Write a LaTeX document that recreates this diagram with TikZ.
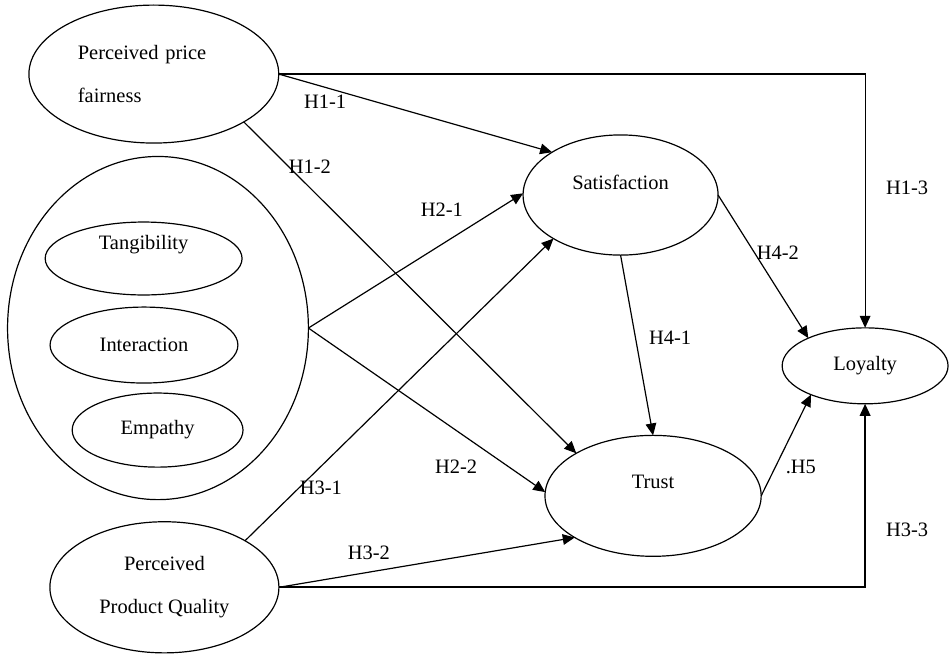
\documentclass[tikz,border=0pt]{standalone}
\usepackage{fontspec}
\setmainfont{Liberation Serif}
\usetikzlibrary{shapes.geometric,arrows.meta,positioning,calc}

\begin{document}
\begin{tikzpicture}[
  construct/.style={
    ellipse, draw=black, line width=0.9pt,
    inner sep=0pt, outer sep=0pt, align=center
  },
  hypo/.style={
    -{Triangle[length=9pt,width=8pt]},
    line width=0.9pt, black
  },
  hyplabel/.style={
    inner sep=1pt
  },
  font=\fontsize{15.4}{18.5}\selectfont
]

\useasboundingbox (0,0) rectangle (25.11,-17.30);

% ==================== CONSTRUCTS ====================

% Perceived price fairness (top left)
\node (ppf) [construct, minimum width=6.61cm, minimum height=3.65cm,
    text width=4.02cm, align=left] at (4.07,-1.96)
    {Perceived price\\[13.8pt]fairness};

% Service quality: outer ellipse holding its three dimensions
\node (sq) [construct, minimum width=7.96cm, minimum height=9.08cm] at (4.18,-8.68) {};

\node (tan) [construct, minimum width=5.21cm, minimum height=1.93cm, text depth=24pt]
    at (3.80,-6.84) {Tangibility};
\node (int) [construct, minimum width=4.97cm, minimum height=2.01cm]
    at (3.81,-9.13) {Interaction};
\node (emp) [construct, minimum width=4.52cm, minimum height=1.96cm]
    at (4.17,-11.38) {Empathy};

% Perceived product quality (bottom left)
\node (ppq) [construct, minimum width=6.06cm, minimum height=3.47cm] at (4.35,-15.54)
    {Perceived\\[13.8pt]Product Quality};

% Mediators and outcome
\node (sat) [construct, minimum width=5.16cm, minimum height=3.18cm, text depth=19.5pt]
    at (16.42,-5.16) {Satisfaction};
\node (tru) [construct, minimum width=5.72cm, minimum height=3.20cm, text depth=21pt]
    at (17.28,-13.12) {Trust};
\node (loy) [construct, minimum width=4.39cm, minimum height=2.01cm]
    at (22.89,-9.68) {Loyalty};

% ==================== HYPOTHESES ====================

% H1: price fairness
\draw [hypo] (ppf.east) -- (sat.148);
\draw [hypo] (ppf.-28) -- (tru.151);
\draw [hypo] (ppf.east) -| (loy.north);

% H2: service quality
\draw [hypo] (sq.east) -- (sat.179);
\draw [hypo] (sq.east) -- (tru.178);

% H3: product quality
\draw [hypo] (ppq.30) -- (sat.213);
\draw [hypo] (ppq.east) -- (tru.208);
\draw [hypo, line width=1.3pt] (ppq.east) -| (loy.south);

% H4, H5: satisfaction and trust
\draw [hypo] (sat.south) -- (tru.north);
\draw [hypo] (sat.east) -- (loy.154);
\draw [hypo] (tru.east) -- (loy.208);

% ==================== LABELS ====================

\node (h11) [hyplabel] at (8.60,-2.70) {H1-1};
\node (h12) [hyplabel] at (8.20,-4.42) {H1-2};
\node (h13) [hyplabel] at (24.00,-4.97) {H1-3};
\node (h21) [hyplabel] at (11.69,-5.56) {H2-1};
\node (h22) [hyplabel] at (12.07,-12.36) {H2-2};
\node (h31) [hyplabel] at (8.49,-12.91) {H3-1};
\node (h32) [hyplabel] at (9.76,-14.63) {H3-2};
\node (h33) [hyplabel] at (24.00,-14.02) {H3-3};
\node (h41) [hyplabel] at (17.73,-8.94) {H4-1};
\node (h42) [hyplabel] at (20.58,-6.69) {H4-2};
\node (h5) [hyplabel] at (21.19,-12.36) {.H5};

\end{tikzpicture}
\end{document}
